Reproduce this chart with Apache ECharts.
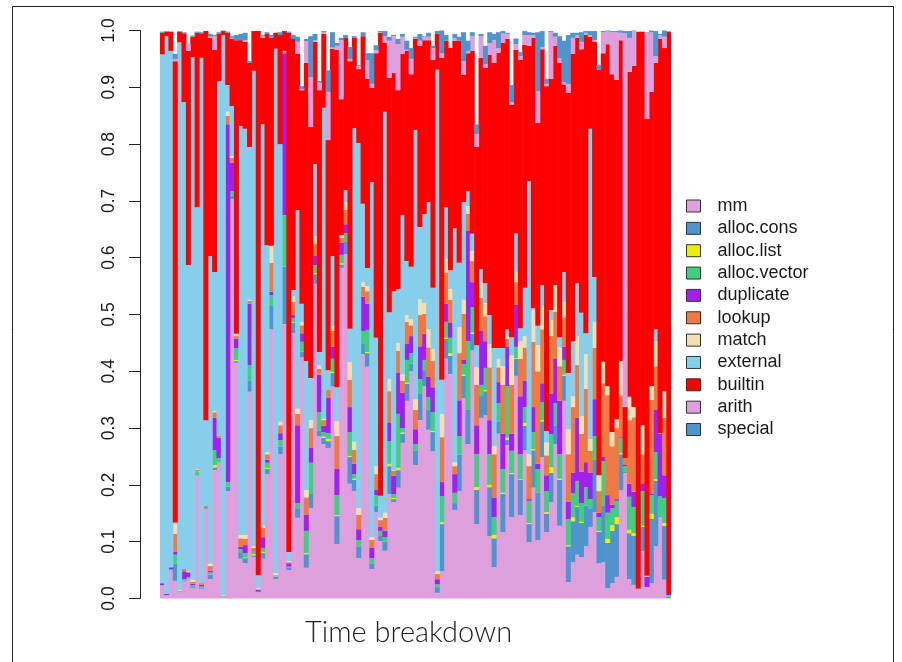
<!DOCTYPE html>
<html>
<head>
<meta charset="utf-8">
<title>Time breakdown</title>
<style>html,body{margin:0;padding:0;background:#fff}#c{width:902px;height:662px}</style>
<script src="https://cdn.jsdelivr.net/npm/echarts@6/dist/echarts.min.js"></script>
</head>
<body>
<div id="c"></div>
<script>
// Each array is the top edge of that layer in the stack.
const mmTop=[.022,.006,.049,.031,.011,.03,.034,.018,.216,.017,
.157,.034,.226,.239,.003,.189,.703,.415,.07,.062,
.364,.073,.011,.07,.219,.474,.034,.254,.483,.05,
.467,.142,.425,.054,.159,.554,.286,.272,.265,.374,
.096,.582,.606,.202,.189,.071,.43,.408,.052,.152,
.101,.084,.184,.17,.195,.274,.348,.4,.235,.314,
.374,.297,.259,.01,.048,.422,.395,.156,.189,.353,
.272,.437,.131,.318,.323,.11,.055,.29,.117,.27,
.143,.392,.147,.261,.099,.195,.103,.249,.117,.17,
.272,.128,.348,.029,.064,.077,.073,.092,.126,.152,
.062,.064,.018,.027,.038,.191,.221,.034,.024,.015,
.083,.02,.027,.092,.143,.033,.001];
const consTop=[.022,.006,.05,.061,.012,.032,.035,.02,.216,.019,
.159,.042,.231,.239,.003,.197,.709,.418,.08,.071,
.383,.076,.012,.08,.228,.515,.038,.267,.584,.055,
.485,.159,.435,.078,.184,.571,.295,.283,.277,.397,
.145,.588,.629,.249,.209,.092,.448,.432,.062,.164,
.11,.1,.233,.175,.226,.29,.378,.414,.261,.36,
.402,.332,.293,.02,.131,.457,.427,.168,.253,.392,
.332,.466,.191,.358,.365,.196,.106,.312,.184,.279,
.219,.422,.209,.304,.131,.261,.186,.312,.149,.221,
.305,.209,.392,.092,.136,.161,.133,.164,.159,.244,
.117,.163,.098,.119,.131,.254,.224,.115,.11,.016,
.126,.02,.14,.207,.145,.128,.003];
const listTop=[.023,.006,.05,.061,.012,.032,.035,.02,.216,.019,
.159,.042,.235,.239,.003,.197,.709,.42,.08,.072,
.383,.078,.012,.082,.23,.515,.038,.267,.584,.055,
.486,.159,.435,.08,.184,.573,.295,.285,.281,.399,
.147,.59,.629,.251,.211,.092,.448,.434,.062,.164,
.11,.1,.237,.177,.23,.292,.38,.414,.261,.36,
.402,.332,.295,.02,.134,.459,.432,.168,.253,.394,
.332,.468,.196,.358,.367,.2,.112,.312,.186,.283,
.221,.423,.21,.309,.133,.263,.186,.314,.152,.231,
.305,.211,.394,.094,.143,.163,.135,.164,.159,.244,
.119,.163,.105,.129,.143,.256,.224,.121,.115,.016,
.128,.02,.149,.21,.145,.133,.003];
const vecTop=[.023,.006,.051,.077,.013,.034,.037,.023,.224,.021,
.159,.046,.261,.247,.005,.205,.717,.441,.087,.08,
.411,.082,.012,.089,.239,.534,.039,.279,.675,.056,
.494,.168,.452,.119,.239,.587,.328,.293,.291,.422,
.182,.605,.643,.293,.219,.103,.471,.473,.071,.182,
.119,.108,.277,.184,.325,.3,.42,.432,.272,.386,
.42,.354,.328,.025,.18,.487,.459,.186,.286,.413,
.453,.513,.254,.376,.406,.254,.143,.344,.228,.374,
.26,.443,.254,.337,.172,.293,.228,.346,.189,.289,
.344,.254,.42,.14,.185,.207,.168,.196,.175,.286,
.143,.242,.151,.159,.172,.282,.233,.179,.161,.016,
.189,.02,.182,.258,.18,.177,.006];
const dupTop=[.027,.008,.055,.082,.013,.048,.046,.026,.224,.024,
.159,.049,.318,.283,.005,.835,.767,.457,.091,.094,
.519,.082,.016,.108,.244,.54,.039,.291,.96,.062,
.499,.305,.467,.147,.265,.603,.394,.304,.353,.443,
.228,.626,.659,.337,.237,.122,.531,.519,.089,.191,
.127,.119,.309,.216,.397,.362,.448,.462,.298,.444,
.466,.39,.372,.034,.205,.519,.485,.219,.349,.42,
.647,.557,.305,.471,.453,.314,.178,.381,.29,.444,
.29,.517,.356,.383,.175,.337,.237,.379,.217,.36,
.423,.348,.443,.17,.221,.318,.223,.24,.221,.351,
.151,.249,.182,.165,.175,.284,.235,.202,.188,.016,
.203,.038,.184,.333,.29,.217,.008];
const lookTop=[.027,.008,.055,.114,.014,.052,.047,.029,.227,.027,
.163,.057,.328,.286,.005,.85,.776,.462,.106,.105,
.524,.089,.016,.124,.254,.591,.041,.305,.962,.064,
.522,.325,.481,.178,.3,.624,.404,.314,.367,.471,
.286,.635,.684,.385,.262,.147,.549,.541,.103,.219,
.138,.142,.365,.225,.436,.383,.487,.481,.332,.499,
.501,.442,.418,.043,.284,.574,.526,.233,.432,.501,
.677,.594,.376,.529,.497,.407,.254,.407,.376,.457,
.376,.557,.422,.442,.233,.452,.4,.474,.252,.462,
.505,.409,.495,.254,.337,.411,.29,.369,.26,.441,
.189,.379,.358,.268,.3,.358,.247,.314,.319,.016,
.254,.039,.35,.409,.291,.318,.008];
const matchTop=[.027,.008,.055,.131,.015,.052,.048,.033,.228,.027,
.163,.061,.33,.286,.006,.857,.779,.466,.112,.112,
.526,.092,.018,.129,.258,.621,.045,.311,.964,.066,
.532,.334,.487,.191,.314,.638,.41,.316,.367,.48,
.312,.64,.698,.416,.276,.159,.557,.55,.108,.233,
.142,.151,.386,.226,.45,.395,.499,.492,.351,.527,
.52,.474,.439,.048,.325,.598,.545,.24,.478,.526,
.691,.612,.407,.557,.52,.448,.268,.422,.409,.462,
.428,.575,.453,.462,.254,.508,.446,.515,.275,.49,
.549,.442,.522,.298,.356,.462,.321,.43,.281,.487,
.217,.416,.372,.293,.314,.418,.247,.353,.337,.016,
.305,.04,.374,.453,.291,.363,.008];
const extTop=[.958,.99,.964,.134,.979,.874,.587,.953,.689,.952,
.314,.603,.575,.911,.992,.904,.867,.466,.832,.827,
.795,.929,.041,.835,.622,.621,.968,.8,.964,.082,
.543,.684,.519,.418,.388,.765,.434,.864,.402,.603,
.372,.64,.719,.475,.828,.802,.695,.582,.733,.459,
.181,.857,.504,.541,.545,.675,.594,.584,.825,.654,
.677,.698,.547,.931,.385,.689,.578,.652,.591,.698,
.717,.642,.446,.58,.555,.499,.441,.441,.441,.474,
.46,.643,.476,.547,.735,.511,.48,.552,.295,.508,
.552,.46,.575,.397,.453,.555,.503,.467,.827,.566,
.217,.417,.374,.293,.316,.418,.247,.355,.337,.017,
.305,.04,.374,.474,.291,.365,.008];
const builtinTop=[.996,.998,.998,.946,.998,.995,.964,.989,.996,.995,
.999,.987,.966,.994,.999,.996,.985,.983,.983,.98,
.943,.999,.999,.987,.994,.987,.996,.992,.999,.996,
.985,.959,.895,.943,.83,.98,.895,.994,.807,.968,
.966,.879,.987,.946,.987,.932,.99,.915,.899,.96,
.996,.978,.917,.925,.895,.959,.964,.923,.985,.973,
.983,.983,.948,.994,.952,.982,.969,.982,.982,.922,
.96,.964,.795,.952,.934,.957,.943,.961,.978,.985,
.869,.966,.948,.975,.973,.987,.837,.967,.902,.915,
.973,.943,.904,.89,.959,.987,.967,.992,.989,.98,
.931,.96,.976,.923,.913,.983,.337,.927,.938,.998,
.998,.844,.892,.943,.985,.969,.998];
const arithTop=[.996,.998,.998,.95,.998,.995,.976,.989,.996,.995,
.999,.989,.99,.994,.999,.996,.987,.983,.983,.983,
.943,.999,.999,.99,.994,.987,.996,.992,.999,.996,
.985,.98,.897,.981,.918,.983,.908,.997,.892,.97,
.973,.983,.987,.95,.987,.937,.99,.948,.906,.965,
.997,.99,.982,.99,.976,.989,.966,.95,.987,.982,
.989,.989,.969,.994,.96,.982,.969,.987,.982,.946,
.964,.99,.818,.99,.941,.978,.983,.969,.995,.994,
.874,.976,.955,.992,.992,.992,.893,.971,.906,.997,
.989,.951,.909,.906,.987,.992,.98,.996,.992,.983,
.931,.997,.999,.997,.997,.996,.995,.987,.999,.998,
.998,.996,.997,.955,.992,.989,.998];
const specTop=[.998,.999,.998,.959,.999,.997,.977,.991,.998,.997,
.999,.994,.992,.997,1,.998,.99,.992,.994,.996,
.946,.999,.999,.992,.997,.992,.996,.997,.999,.998,
.992,.989,.902,.985,.99,.994,.911,.999,.93,.997,
.978,.987,.992,.971,.99,.939,.997,.96,.96,.974,
.999,.999,.989,.992,.985,.994,.982,.969,.989,.994,
.99,.996,.973,.999,1,.992,.969,.994,.989,.997,
.982,.997,.835,.994,.973,.997,.994,.997,.999,.996,
.904,.986,.962,.999,.997,.996,.997,.999,.915,.999,
.996,.99,.982,.992,.996,.996,.997,.999,.999,.999,
.939,.999,1,.999,.999,1,.999,.999,1,.998,
.998,.997,1,.999,.994,1,.999];
const seriesNames=['mm','alloc.cons','alloc.list','alloc.vector','duplicate','lookup','match','external','builtin','arith','special'];
const seriesColors=['#DDA0DD','#4F94CD','#EEEE00','#43CD80','#A020F0','#EE7942','#F5DEB3','#87CEEB','#FF0000','#DDA0DD','#4F94CD'];
const layerTops=[mmTop,consTop,listTop,vecTop,dupTop,lookTop,matchTop,extTop,builtinTop,arithTop,specTop];
const yTickLabels=['0.0','0.1','0.2','0.3','0.4','0.5','0.6','0.7','0.8','0.9','1.0'];
const categories=mmTop.map((_,i)=>String(i+1));

const chart=echarts.init(document.getElementById('c'),null,{renderer:'canvas'});
chart.setOption({
  animation:false,
  backgroundColor:'#fff',
  title:{text:'Time breakdown',left:305,top:618,padding:0,
    textStyle:{fontFamily:'Lato',fontWeight:300,fontSize:29,color:'#222'}},
  legend:{orient:'vertical',left:686,top:197,padding:0,itemWidth:14,itemHeight:12,itemGap:4.35,icon:'rect',
    selectedMode:false,data:seriesNames.map((n,i)=>({name:n,itemStyle:{color:seriesColors[i],borderColor:'#333',borderWidth:1}})),
    textStyle:{fontFamily:'Liberation Sans',fontSize:18,color:'#1a1a1a',padding:[0,0,0,12],lineHeight:18}},
  grid:{left:160,top:30.5,width:511,height:568,containLabel:false},
  xAxis:{type:'category',data:categories,show:false,boundaryGap:true},
  yAxis:{type:'value',min:0,max:1,interval:0.1,offset:20,
    splitLine:{show:false},
    axisLine:{show:true,lineStyle:{color:'#222',width:1}},
    axisTick:{show:true,length:11,lineStyle:{color:'#222',width:1}},
    axisLabel:{rotate:90,margin:22,fontFamily:'Liberation Sans',fontSize:17.5,color:'#1a1a1a',
      formatter:(v)=>yTickLabels[Math.round(v*10)]}},
  graphic:[
    {type:'line',shape:{x1:12.5,y1:6.5,x2:893.5,y2:6.5},style:{stroke:'#222',lineWidth:1}},
    {type:'line',shape:{x1:12.5,y1:6.5,x2:12.5,y2:662},style:{stroke:'#222',lineWidth:1}},
    {type:'line',shape:{x1:893.5,y1:6.5,x2:893.5,y2:662},style:{stroke:'#222',lineWidth:1}}
  ],
  series:seriesNames.map((n,i)=>({
    name:n,type:'bar',stack:'total',barWidth:5,
    itemStyle:{color:seriesColors[i]},
    data:layerTops[i].map((t,k)=>+(t-(i?layerTops[i-1][k]:0)).toFixed(3))
  }))
});
</script>
</body>
</html>
